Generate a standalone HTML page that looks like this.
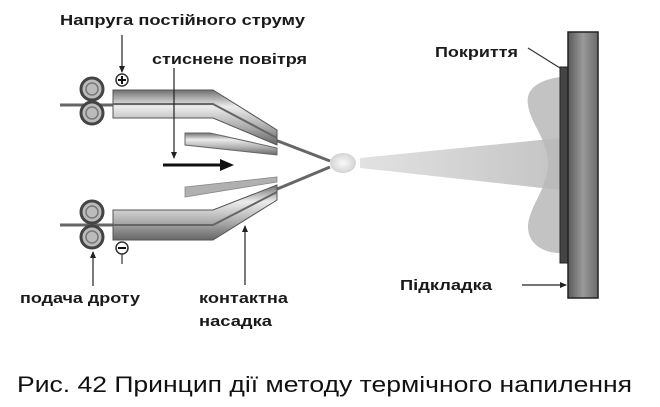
<!DOCTYPE html>
<html><head><meta charset="utf-8"><style>
html,body{margin:0;padding:0;background:#fff;}
svg{display:block}
</style></head><body>
<svg width="660" height="407" viewBox="0 0 660 407" xmlns="http://www.w3.org/2000/svg">
<defs>
<linearGradient id="tube" x1="0" y1="0" x2="0" y2="1">
<stop offset="0" stop-color="#707070"/><stop offset="0.3" stop-color="#ececec"/><stop offset="0.65" stop-color="#b0b0b0"/><stop offset="1" stop-color="#666"/>
</linearGradient>
<linearGradient id="sub" x1="0" y1="0" x2="1" y2="0">
<stop offset="0" stop-color="#5a5a5a"/><stop offset="0.5" stop-color="#9a9a9a"/><stop offset="1" stop-color="#6a6a6a"/>
</linearGradient>
<linearGradient id="cone" x1="0" y1="0" x2="1" y2="0">
<stop offset="0" stop-color="#e2e2e2"/><stop offset="1" stop-color="#c4c4c4"/>
</linearGradient>
<radialGradient id="glow"><stop offset="0" stop-color="#fafafa"/><stop offset="1" stop-color="#d4d4d4"/></radialGradient>
<marker id="ah" markerWidth="8" markerHeight="8" refX="6" refY="3" orient="auto" markerUnits="userSpaceOnUse"><path d="M0,0 L7,3 L0,6 Z" fill="#222"/></marker>
</defs>
<g font-family="Liberation Sans, sans-serif" font-weight="bold" font-size="15" fill="#1a1a1a" lengthAdjust="spacingAndGlyphs">
<text x="60" y="25" textLength="245" lengthAdjust="spacingAndGlyphs">Напруга постійного струму</text>
<text x="152" y="64" textLength="155" lengthAdjust="spacingAndGlyphs">стиснене повітря</text>
<text x="20" y="303" textLength="120" lengthAdjust="spacingAndGlyphs">подача дроту</text>
<text x="199" y="303" textLength="89" lengthAdjust="spacingAndGlyphs">контактна</text>
<text x="199" y="326" textLength="73" lengthAdjust="spacingAndGlyphs">насадка</text>
<text x="435" y="57" textLength="83" lengthAdjust="spacingAndGlyphs">Покриття</text>
<text x="400" y="290" textLength="92" lengthAdjust="spacingAndGlyphs">Підкладка</text>
</g>
<!-- cone & cloud -->
<path d="M360,158 L560,138 L560,190 L360,168 Z" fill="url(#cone)"/>
<path d="M560,77 C540,80 525,88 528,105 C531,125 548,140 548,163 C548,188 530,205 528,225 C527,245 545,253 560,253 Z" fill="#b8b8b8" opacity="0.85"/>
<ellipse cx="343" cy="163" rx="13" ry="10" fill="url(#glow)"/>
<!-- substrate -->
<rect x="560" y="67" width="8" height="196" fill="#444" stroke="#222" stroke-width="1"/>
<rect x="568" y="32" width="30" height="266" fill="url(#sub)" stroke="#222" stroke-width="1.5"/>
<line x1="528" y1="48" x2="560" y2="68" stroke="#333" stroke-width="1.2"/>
<line x1="522" y1="285" x2="566" y2="285" stroke="#222" stroke-width="1.2" marker-end="url(#ah)"/>
<!-- wires -->
<line x1="60" y1="105" x2="115" y2="105" stroke="#666" stroke-width="3"/>
<line x1="60" y1="225" x2="115" y2="225" stroke="#666" stroke-width="3"/>
<line x1="270" y1="138" x2="330" y2="161" stroke="#666" stroke-width="3"/>
<line x1="270" y1="192" x2="330" y2="167" stroke="#666" stroke-width="3"/>
<!-- rollers -->
<g fill="#bbb" stroke="#444" stroke-width="3">
<circle cx="92" cy="89" r="11"/><circle cx="92" cy="113" r="11"/>
<circle cx="92" cy="212" r="11"/><circle cx="92" cy="237" r="11"/>
</g>
<g fill="none" stroke="#777" stroke-width="1.5">
<circle cx="92" cy="89" r="6"/><circle cx="92" cy="113" r="6"/>
<circle cx="92" cy="212" r="6"/><circle cx="92" cy="237" r="6"/>
</g>
<!-- top tube -->
<path d="M113,90 L213,90 L277,130 L277,145 L213,118 L113,118 Z" fill="url(#tube)" stroke="#555" stroke-width="1"/>
<path d="M113,104 L213,104 L277,138" fill="none" stroke="#666" stroke-width="2"/>
<!-- bottom tube -->
<path d="M113,210 L213,210 L277,185 L277,200 L213,240 L113,240 Z" fill="url(#tube)" stroke="#555" stroke-width="1"/>
<path d="M113,225 L213,225 L277,192" fill="none" stroke="#666" stroke-width="2"/>
<!-- wedges -->
<path d="M185,133 L210,133 L277,148 L277,155 L185,145 Z" fill="url(#tube)" stroke="#666" stroke-width="1"/>
<path d="M185,187 L277,177 L277,182 L185,197 Z" fill="#b0b0b0" stroke="#888" stroke-width="0.8"/>
<!-- +/- -->
<line x1="122" y1="35" x2="122" y2="72" stroke="#222" stroke-width="1.2" marker-end="url(#ah)"/>
<circle cx="122" cy="80" r="6" fill="#fff" stroke="#333" stroke-width="1.5"/>
<path d="M118,80 H126 M122,76 V84" stroke="#111" stroke-width="2"/>
<circle cx="122" cy="248" r="6" fill="#fff" stroke="#333" stroke-width="1.5"/>
<path d="M118,248 H126" stroke="#111" stroke-width="2"/>
<line x1="122" y1="254" x2="122" y2="264" stroke="#333" stroke-width="1.2"/>
<!-- arrows -->
<line x1="174" y1="68" x2="174" y2="158" stroke="#222" stroke-width="1.2" marker-end="url(#ah)"/>
<line x1="163" y1="165" x2="222" y2="165" stroke="#111" stroke-width="3"/>
<path d="M220,159 L234,165 L220,171 Z" fill="#111"/>
<line x1="93" y1="286" x2="93" y2="252" stroke="#222" stroke-width="1.2" marker-end="url(#ah)"/>
<line x1="245" y1="285" x2="245" y2="226" stroke="#222" stroke-width="1.2" marker-end="url(#ah)"/>
<text x="17" y="392" font-family="Liberation Sans, sans-serif" font-size="22" fill="#111" textLength="615" lengthAdjust="spacingAndGlyphs">Рис. 42 Принцип дії методу термічного напилення</text>
</svg>
</body></html>
